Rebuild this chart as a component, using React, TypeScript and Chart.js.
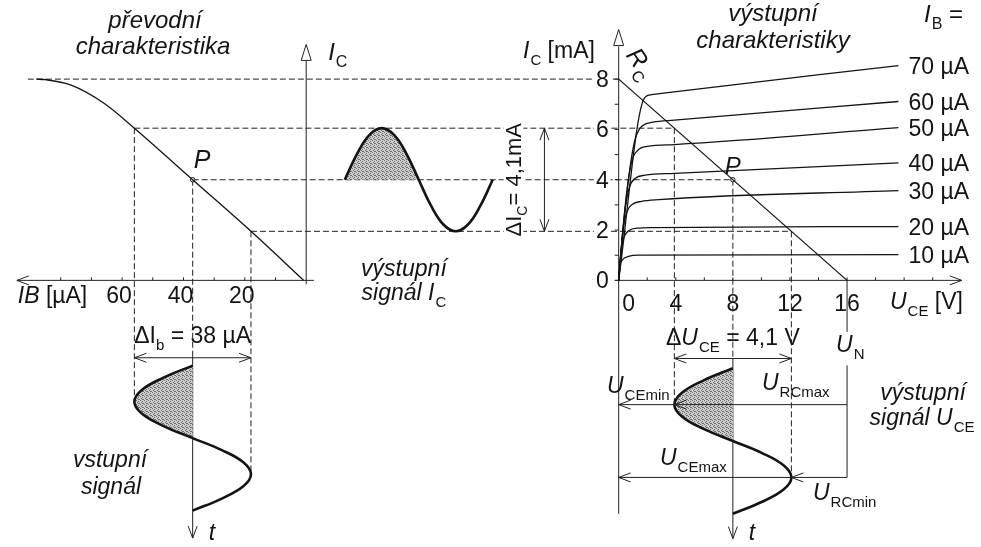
import React, { useEffect, useRef } from 'react';
import { Chart, registerables } from 'chart.js';

Chart.register(...registerables);

const W = 981;
const H = 547;
const INK = '#141414';
const FONT = '"Liberation Sans", Arial, Helvetica, sans-serif';

// Operating point P and the signal swings around it
const IC_P = 4; // mA
const IC_HI = 6.05;
const IC_LO = 1.95; // ΔIC = 4,1 mA
const IB_P = 37; // µA
const IB_HI = 56;
const IB_LO = 18; // ΔIb = 38 µA
const UCE_P = 8; // V
const UCE_LO = 3.9;
const UCE_HI = 12.1; // ΔUCE = 4,1 V
const U_N = 16; // supply voltage
const IC_MAX = 8; // load line at UCE = 0

// axis ticks and labels
const ibTicks = [10, 20, 30, 40, 50, 60, 70, 80];
const ibLabels = [60, 40, 20];
const icTicks = [0, 1, 2, 3, 4, 5, 6, 7, 8];
const icLabels = [0, 2, 4, 6, 8];
const uceTicks = [2, 4, 6, 8, 10, 12, 14, 16, 18, 20, 22];
const uceLabels = [0, 4, 8, 12, 16];

// převodní charakteristika IC = f(IB)
const transferIB = [88, 85, 76.6, 65.9, 56, 37, 18, 0.8];
const transferIC = [8, 7.98, 7.76, 7.04, 6.05, 4, 1.95, 0];

// výstupní charakteristiky IC = f(UCE), [UCE, IC] per base current
const baseCurrents = [10, 20, 30, 40, 50, 60, 70];
const curve10 = [[0, 0], [0.06, 0.5], [0.25, 0.8], [0.7, 0.95], [1.4, 1.0], [19.6, 1.02]];
const curve20 = [[0, 0], [0.15, 1.1], [0.4, 1.75], [0.7, 1.97], [1.4, 2.08], [2.3, 2.1], [19.6, 2.14]];
const curve30 = [[0, 0], [0.3, 2.0], [0.6, 2.75], [0.95, 3.02], [1.6, 3.14], [2.8, 3.21], [19.6, 3.57]];
const curve40 = [[0, 0], [0.4, 2.6], [0.75, 3.7], [1.15, 4.05], [1.85, 4.18], [3.9, 4.25], [19.6, 4.67]];
const curve50 = [[0, 0], [0.5, 3.2], [0.9, 4.7], [1.3, 5.15], [2.0, 5.33], [3.9, 5.4], [19.6, 6.07]];
const curve60 = [[0, 0], [0.6, 3.6], [1.1, 5.5], [1.5, 6.05], [1.9, 6.22], [2.4, 6.29], [3.9, 6.37], [19.6, 7.11]];
const curve70 = [[0, 0], [1.73, 7.17], [2.2, 7.37], [3.0, 7.43], [19.6, 8.54]];
const outputCurves = [curve10, curve20, curve30, curve40, curve50, curve60, curve70];

// load line of RC
const loadUCE = [0, U_N];
const loadIC = [IC_MAX, 0];

// one period of each signal (t in periods)
const signalT = [0, 0.083, 0.167, 0.25, 0.333, 0.417, 0.5, 0.583, 0.667, 0.75, 0.833, 0.917, 1];
const icSignal = [4, 5.03, 5.78, 6.05, 5.78, 5.03, 4, 2.97, 2.22, 1.95, 2.22, 2.97, 4];
const ibSignal = [37, 46.5, 53.5, 56, 53.5, 46.5, 37, 27.5, 20.5, 18, 20.5, 27.5, 37];
const uceSignal = [8, 5.95, 4.45, 3.9, 4.45, 5.95, 8, 10.05, 11.55, 12.1, 11.55, 10.05, 8];

// where each coordinate system sits on the canvas (pixel of value 0, pixels per unit)
const PLACE = {
  uce: [620, 14.42],
  ic: [280.5, 25.625],
  ib: [304.3, 3.1],
  tIc: [343.3, 149.4],
  tIb: [367.3, 147.7],
  tUce: [370, 148.3],
};

function hScale(place: number[], leftward = false) {
  const [o, k] = place;
  return leftward
    ? { type: 'linear', axis: 'x', display: false, reverse: true, bounds: 'data', min: -(W - o) / k, max: o / k }
    : { type: 'linear', axis: 'x', display: false, bounds: 'data', min: -o / k, max: (W - o) / k };
}
function vScale(place: number[], downward = false) {
  const [o, k] = place;
  return downward
    ? { type: 'linear', axis: 'y', display: false, reverse: true, bounds: 'data', min: -o / k, max: (H - o) / k }
    : { type: 'linear', axis: 'y', display: false, bounds: 'data', min: -(H - o) / k, max: o / k };
}

type Run = { t: string; it?: boolean; sub?: boolean };

function runFont(r: Run, size: number) {
  return `${r.it ? 'italic ' : ''}${r.sub ? Math.round(size * 0.65) : size}px ${FONT}`;
}

function drawRuns(ctx: CanvasRenderingContext2D, runs: Run[], x: number, y: number, size: number, align = 'left', bg = false) {
  const widths = runs.map((r, i) => {
    ctx.font = runFont(r, size);
    const extra = r.it && runs[i + 1] && runs[i + 1].sub ? 1 : 0;
    return ctx.measureText(r.t).width + extra;
  });
  const total = widths.reduce((a, b) => a + b, 0);
  let cx = align === 'center' ? x - total / 2 : align === 'right' ? x - total : x;
  if (bg) {
    ctx.fillStyle = '#fff';
    ctx.fillRect(cx - 2, y - size * 0.78, total + 4, size * 0.9);
  }
  ctx.fillStyle = INK;
  ctx.textBaseline = 'alphabetic';
  ctx.textAlign = 'left';
  runs.forEach((r, i) => {
    ctx.font = runFont(r, size);
    ctx.fillText(r.t, cx, y + (r.sub ? size * 0.3 : 0));
    cx += widths[i];
  });
}

function seg(ctx: CanvasRenderingContext2D, x1: number, y1: number, x2: number, y2: number) {
  ctx.beginPath();
  ctx.moveTo(x1, y1);
  ctx.lineTo(x2, y2);
  ctx.stroke();
}

function openHead(ctx: CanvasRenderingContext2D, x: number, y: number, dx: number, dy: number, len = 12, half = 4.5) {
  const px = -dy;
  const py = dx;
  ctx.beginPath();
  ctx.moveTo(x - dx * len + px * half, y - dy * len + py * half);
  ctx.lineTo(x, y);
  ctx.lineTo(x - dx * len - px * half, y - dy * len - py * half);
  ctx.stroke();
}

function hollowTip(ctx: CanvasRenderingContext2D, x: number, yTip: number, h = 16, half = 5) {
  ctx.beginPath();
  ctx.moveTo(x, yTip);
  ctx.lineTo(x + half, yTip + h);
  ctx.lineTo(x - half, yTip + h);
  ctx.closePath();
  ctx.fillStyle = '#fff';
  ctx.fill();
  ctx.stroke();
}

function mappers(chart: any) {
  const s = chart.scales;
  return {
    U: (v: number) => s.xU.getPixelForValue(v),
    B: (v: number) => s.xB.getPixelForValue(v),
    T: (v: number) => s.xT.getPixelForValue(v),
    I: (v: number) => s.yI.getPixelForValue(v),
    Ti: (v: number) => s.yTin.getPixelForValue(v),
    To: (v: number) => s.yTout.getPixelForValue(v),
  };
}

const diagramPlugin = {
  id: 'diagram',
  beforeDatasetsDraw(chart: any) {
    const ctx: CanvasRenderingContext2D = chart.ctx;
    const { U, B, I, Ti, To } = mappers(chart);
    ctx.save();
    ctx.strokeStyle = '#222';
    ctx.lineWidth = 1;

    // dashed projection lines
    ctx.setLineDash([6, 3]);
    seg(ctx, B(90.7), I(IC_MAX), U(0), I(IC_MAX));
    seg(ctx, B(IB_HI), I(IC_HI), U(UCE_LO), I(IC_HI));
    seg(ctx, B(IB_P), I(IC_P), U(UCE_P), I(IC_P));
    seg(ctx, B(IB_LO), I(IC_LO), U(UCE_HI), I(IC_LO));
    seg(ctx, B(IB_HI), I(IC_HI), B(IB_HI), Ti(0.25));
    seg(ctx, B(IB_P), I(IC_P), B(IB_P), Ti(-0.06));
    seg(ctx, B(IB_LO), I(IC_LO), B(IB_LO), Ti(0.75));
    seg(ctx, U(UCE_LO), I(IC_HI), U(UCE_LO), To(0.25));
    seg(ctx, U(UCE_P), I(IC_P), U(UCE_P), To(-0.07));
    seg(ctx, U(UCE_HI), I(IC_LO), U(UCE_HI), To(0.75));
    ctx.setLineDash([]);

    // transfer characteristic axes
    seg(ctx, B(0), I(-0.15), B(0), I(8.8));
    seg(ctx, B(94.3), I(0), B(-2.5), I(0));
    ibTicks.forEach((v) => seg(ctx, B(v), I(0), B(v), I(0) - 3));

    // output characteristic axes
    seg(ctx, U(0), To(1), U(0), I(9.3));
    seg(ctx, U(-0.25), I(0), U(24.04), I(0));
    icTicks.forEach((v) => seg(ctx, U(0) - 4, I(v), U(0), I(v)));
    uceTicks.forEach((v) => seg(ctx, U(v), I(0), U(v), I(0) - 3));

    // supply voltage line, interrupted by its label
    seg(ctx, U(U_N), I(0), U(U_N), I(-2.05));
    seg(ctx, U(U_N), To(-0.02), U(U_N), To(0.75));

    // time axes of the input and output signals
    seg(ctx, B(IB_P), Ti(-0.06), B(IB_P), Ti(1.19));
    seg(ctx, U(UCE_P), To(-0.07), U(UCE_P), To(1.17));
    ctx.restore();
  },
  afterDatasetsDraw(chart: any) {
    const ctx: CanvasRenderingContext2D = chart.ctx;
    const { U, B, T, I, Ti, To } = mappers(chart);
    ctx.save();
    ctx.strokeStyle = '#222';
    ctx.lineWidth = 1;

    // arrow tips of the axes
    hollowTip(ctx, B(0), I(9.38));
    hollowTip(ctx, U(0), I(9.97));
    openHead(ctx, B(94.3), I(0), -1, 0);
    openHead(ctx, U(24.04), I(0), 1, 0);
    openHead(ctx, B(IB_P), Ti(1.19), 0, 1);
    openHead(ctx, U(UCE_P), To(1.17), 0, 1);

    // ΔIb
    const yb = Ti(-0.054);
    seg(ctx, B(IB_HI), yb, B(IB_LO), yb);
    openHead(ctx, B(IB_HI), yb, -1, 0);
    openHead(ctx, B(IB_LO), yb, 1, 0);
    // ΔUCE
    const yu = To(-0.067);
    seg(ctx, U(UCE_LO), yu, U(UCE_HI), yu);
    openHead(ctx, U(UCE_LO), yu, -1, 0);
    openHead(ctx, U(UCE_HI), yu, 1, 0);
    // ΔIC
    const xc = T(1.35);
    seg(ctx, xc, I(IC_HI), xc, I(IC_LO));
    openHead(ctx, xc, I(IC_HI), 0, -1);
    openHead(ctx, xc, I(IC_LO), 0, 1);
    // URC max / min arrows
    [[0.25, UCE_LO], [0.75, UCE_HI]].forEach(([t, u]) => {
      const y = To(t);
      seg(ctx, U(U_N), y, U(0), y);
      openHead(ctx, U(0), y, -1, 0);
      openHead(ctx, U(u), y, -1, 0);
    });

    // texts
    const S = 23;
    drawRuns(ctx, [{ t: 'převodní', it: true }], 155, 28, 24, 'center');
    drawRuns(ctx, [{ t: 'charakteristika', it: true }], 153, 54, 24, 'center');
    drawRuns(ctx, [{ t: 'I', it: true }, { t: 'C', sub: true }], B(0) + 22, 60, 24);
    ibLabels.forEach((v) => drawRuns(ctx, [{ t: String(v) }], B(v) - 3, I(0) + 23, S, 'center'));
    drawRuns(ctx, [{ t: 'IB', it: true }, { t: ' [µA]' }], B(94), I(0) + 23, S);
    drawRuns(ctx, [{ t: 'P', it: true }], B(IB_P) + 1, I(IC_P) - 12, 25);

    drawRuns(ctx, [{ t: 'výstupní', it: true }], T(0.4), 276, S, 'center');
    drawRuns(ctx, [{ t: 'signál ', it: true }, { t: 'I', it: true }, { t: 'C', sub: true }], T(0.4), 300, S, 'center');

    ctx.save();
    ctx.translate(T(1.19), I((IC_HI + IC_LO) / 2));
    ctx.rotate(-Math.PI / 2);
    drawRuns(ctx, [{ t: 'ΔI' }, { t: 'C', sub: true }, { t: '= 4,1mA' }], 0, 0, 22, 'center', true);
    ctx.restore();

    drawRuns(ctx, [{ t: 'I', it: true }, { t: 'C', sub: true }, { t: ' [mA]' }], 523, 58, S);
    icLabels.forEach((v) => drawRuns(ctx, [{ t: String(v) }], U(0) - 10, I(v) + 8, S, 'right', true));
    uceLabels.forEach((v) => drawRuns(ctx, [{ t: String(v) }], U(v) + (v === 0 ? 10 : 0), I(0) + 31, S, 'center'));
    drawRuns(ctx, [{ t: 'U', it: true }, { t: 'CE', sub: true }, { t: ' [V]' }], 890, I(0) + 29, S);

    drawRuns(ctx, [{ t: 'výstupní', it: true }], 773, 21, 24, 'center');
    drawRuns(ctx, [{ t: 'charakteristiky', it: true }], 773, 48, 24, 'center');
    drawRuns(ctx, [{ t: 'I', it: true }, { t: 'B', sub: true }, { t: ' =' }], 924, 22, 24);
    outputCurves.forEach((c, i) => {
      const last = c[c.length - 1];
      drawRuns(ctx, [{ t: `${baseCurrents[i]} µA` }], U(20.3), I(last[1]) + 8, S);
    });

    ctx.save();
    ctx.translate(U(0) + 22, I(IC_MAX) - 16);
    ctx.rotate((55 * Math.PI) / 180);
    drawRuns(ctx, [{ t: 'R', it: true }, { t: 'C', sub: true }], 0, 8, 25, 'center');
    ctx.restore();
    drawRuns(ctx, [{ t: 'P', it: true }], U(UCE_P), I(IC_P) - 6, 24, 'center');

    drawRuns(ctx, [{ t: 'ΔI' }, { t: 'b', sub: true }, { t: ' = 38 µA' }], B(IB_P), 343, S, 'center');
    drawRuns(ctx, [{ t: 'vstupní', it: true }], 110, 467, S, 'center');
    drawRuns(ctx, [{ t: 'signál', it: true }], 111, 494, S, 'center');
    drawRuns(ctx, [{ t: 't', it: true }], B(IB_P) + 16, 540, S);

    drawRuns(ctx, [{ t: 'Δ' }, { t: 'U', it: true }, { t: 'CE', sub: true }, { t: ' = 4,1 V' }], U(UCE_P), 345, S, 'center');
    drawRuns(ctx, [{ t: 'U', it: true }, { t: 'N', sub: true }], U(U_N) - 11, 352, S);
    drawRuns(ctx, [{ t: 'U', it: true }, { t: 'CEmin', sub: true }], 607, 393, S);
    drawRuns(ctx, [{ t: 'U', it: true }, { t: 'RCmax', sub: true }], 762, 390, S);
    drawRuns(ctx, [{ t: 'výstupní', it: true }], 923, 400, S, 'center');
    drawRuns(ctx, [{ t: 'signál ', it: true }, { t: 'U', it: true }, { t: 'CE', sub: true }], 922, 425, S, 'center');
    drawRuns(ctx, [{ t: 'U', it: true }, { t: 'CEmax', sub: true }], 660, 465, S);
    drawRuns(ctx, [{ t: 'U', it: true }, { t: 'RCmin', sub: true }], 813, 500, S);
    drawRuns(ctx, [{ t: 't', it: true }], U(UCE_P) + 16, 540, S);
    ctx.restore();
  },
};

// dotted grey fill for the shaded half periods
function stipple(): CanvasPattern | string {
  const c = document.createElement('canvas');
  c.width = 4;
  c.height = 4;
  const g = c.getContext('2d');
  if (!g) return '#b4b4b4';
  g.fillStyle = '#cdcdcd';
  g.fillRect(0, 0, 4, 4);
  g.fillStyle = '#6e6e6e';
  [[0, 0], [2, 1], [1, 2], [3, 3], [2, 3]].forEach(([x, y]) => g.fillRect(x, y, 1, 1));
  const p = g.createPattern(c, 'repeat');
  return p || '#b4b4b4';
}

export default function App() {
  const ref = useRef<HTMLCanvasElement | null>(null);

  useEffect(() => {
    const canvas = ref.current;
    if (!canvas) return;
    const grey = stipple();

    const thin = { borderColor: INK, borderWidth: 1.3, pointRadius: 0, fill: false };
    const bold = { borderColor: INK, borderWidth: 2.6, pointRadius: 0, fill: false, tension: 0.4 };
    const shade = { borderWidth: 0, borderColor: 'rgba(0,0,0,0)', backgroundColor: grey, pointRadius: 0, tension: 0.4 };

    const pts = (xs: number[], ys: number[]) => xs.map((x, i) => ({ x, y: ys[i] }));
    const tIc = pts(signalT, icSignal);
    const tIb = pts(ibSignal, signalT);
    const tUce = pts(uceSignal, signalT);

    const datasets: any[] = [
      { ...thin, data: pts(transferIB, transferIC), xAxisID: 'xB', yAxisID: 'yI', cubicInterpolationMode: 'monotone' },
      ...outputCurves.map((c) => ({
        ...thin,
        data: c.map(([x, y]) => ({ x, y })),
        xAxisID: 'xU',
        yAxisID: 'yI',
        cubicInterpolationMode: 'monotone',
      })),
      { ...thin, data: pts(loadUCE, loadIC), xAxisID: 'xU', yAxisID: 'yI' },
      {
        data: [{ x: IB_P, y: IC_P }],
        xAxisID: 'xB',
        yAxisID: 'yI',
        showLine: false,
        pointRadius: 2.2,
        pointBackgroundColor: '#fff',
        pointBorderColor: INK,
        pointBorderWidth: 1,
      },
      {
        data: [{ x: UCE_P, y: IC_P }],
        xAxisID: 'xU',
        yAxisID: 'yI',
        showLine: false,
        pointRadius: 2.2,
        pointBackgroundColor: '#fff',
        pointBorderColor: INK,
        pointBorderWidth: 1,
      },
      { ...bold, data: tIc, xAxisID: 'xT', yAxisID: 'yI' },
      { ...bold, data: tIb, xAxisID: 'xB', yAxisID: 'yTin', indexAxis: 'y' },
      { ...bold, data: tUce, xAxisID: 'xU', yAxisID: 'yTout', indexAxis: 'y' },
      // shaded half periods
      { ...shade, data: tIc.slice(0, 7), xAxisID: 'xT', yAxisID: 'yI', fill: { value: IC_P } },
      { ...shade, data: tIb.slice(0, 7), xAxisID: 'xB', yAxisID: 'yTin', indexAxis: 'y', fill: { value: IB_P } },
      { ...shade, data: tUce.slice(0, 7), xAxisID: 'xU', yAxisID: 'yTout', indexAxis: 'y', fill: { value: UCE_P } },
    ];

    const chart = new Chart(canvas, {
      type: 'line',
      data: { datasets },
      options: {
        animation: false,
        responsive: false,
        events: [],
        layout: { padding: 0 },
        plugins: { legend: { display: false }, tooltip: { enabled: false } },
        scales: {
          xU: hScale(PLACE.uce),
          xB: hScale(PLACE.ib, true),
          xT: hScale(PLACE.tIc),
          yI: vScale(PLACE.ic),
          yTin: vScale(PLACE.tIb, true),
          yTout: vScale(PLACE.tUce, true),
        },
      } as any,
      plugins: [diagramPlugin],
    });
    return () => chart.destroy();
  }, []);

  return (
    <div style={{ position: 'absolute', left: 0, top: 0, width: W, height: H, background: '#fff' }}>
      <canvas ref={ref} width={W} height={H} style={{ display: 'block' }} />
    </div>
  );
}
